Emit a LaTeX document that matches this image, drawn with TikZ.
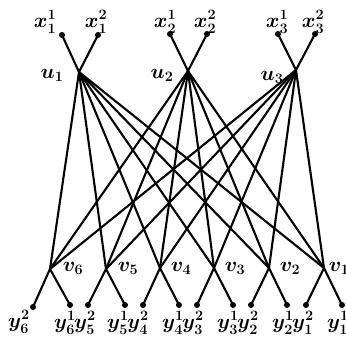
\documentclass[tikz,border=0pt]{standalone}
\usepackage{amsmath}
\begin{document}
\begin{tikzpicture}[x=1pt,y=-1pt,
  edge/.style={line width=2.1pt},
  dot/.style={circle,fill,inner sep=0pt,minimum size=6pt},
  lbl/.style={inner sep=0pt,font=\fontsize{20}{20}\selectfont\boldmath}]
\useasboundingbox (0,0) rectangle (346,341);
\clip (0,0) rectangle (346,341);
% centre vertices
\coordinate (u1) at (79,72);
\coordinate (u2) at (188,71);
\coordinate (u3) at (296,70);
\coordinate (v6) at (50,269);
\coordinate (v5) at (106,269);
\coordinate (v4) at (160,268);
\coordinate (v3) at (214,268);
\coordinate (v2) at (269,268);
\coordinate (v1) at (324,268);
% leaves
\node[dot] (x11) at (62,35) {};
\node[dot] (x12) at (98,35) {};
\node[dot] (x21) at (170,34) {};
\node[dot] (x22) at (207,34) {};
\node[dot] (x31) at (278,34) {};
\node[dot] (x32) at (315,34) {};
\node[dot] (y62) at (33,307) {};
\node[dot] (y61) at (70,305) {};
\node[dot] (y52) at (88,305) {};
\node[dot] (y51) at (125,305) {};
\node[dot] (y42) at (143,305) {};
\node[dot] (y41) at (179,305) {};
\node[dot] (y32) at (197,305) {};
\node[dot] (y31) at (233,305) {};
\node[dot] (y22) at (251,305) {};
\node[dot] (y21) at (287,305) {};
\node[dot] (y12) at (306,305) {};
\node[dot] (y11) at (342,305) {};
% edges
\foreach \i in {1,2,3} {
  \draw[edge] (u\i) -- (x\i1.center);
  \draw[edge] (u\i) -- (x\i2.center);
  \foreach \j in {1,...,6} \draw[edge] (u\i) -- (v\j);
}
\foreach \j in {1,...,6} {
  \draw[edge] (v\j) -- (y\j1.center);
  \draw[edge] (v\j) -- (y\j2.center);
}
% labels
\node[lbl] (lx11) at (45,22) {$x_1^1$};
\node[lbl] (lx12) at (96,22) {$x_1^2$};
\node[lbl] (lx21) at (165,22) {$x_2^1$};
\node[lbl] (lx22) at (205,22) {$x_2^2$};
\node[lbl] (lx31) at (277,22) {$x_3^1$};
\node[lbl] (lx32) at (313,22) {$x_3^2$};
\node[lbl] (lu1) at (52,75) {$u_1$};
\node[lbl] (lu2) at (162,75) {$u_2$};
\node[lbl] (lu3) at (272,77) {$u_3$};
\node[lbl] (lv6) at (73,268) {$v_6$};
\node[lbl] (lv5) at (128,268) {$v_5$};
\node[lbl] (lv4) at (181,268) {$v_4$};
\node[lbl] (lv3) at (235,268) {$v_3$};
\node[lbl] (lv2) at (290,268) {$v_2$};
\node[lbl] (lv1) at (339,268) {$v_1$};
\node[lbl] (ly62) at (19,322) {$y_6^2$};
\node[lbl] (ly61) at (65,323) {$y_6^1$};
\node[lbl] (ly52) at (85,323) {$y_5^2$};
\node[lbl] (ly51) at (118,323) {$y_5^1$};
\node[lbl] (ly42) at (138,323) {$y_4^2$};
\node[lbl] (ly41) at (173,323) {$y_4^1$};
\node[lbl] (ly32) at (193,323) {$y_3^2$};
\node[lbl] (ly31) at (228,323) {$y_3^1$};
\node[lbl] (ly22) at (248,323) {$y_2^2$};
\node[lbl] (ly21) at (283,323) {$y_2^1$};
\node[lbl] (ly12) at (303,323) {$y_1^2$};
\node[lbl] (ly11) at (338,323) {$y_1^1$};
\end{tikzpicture}
\end{document}
